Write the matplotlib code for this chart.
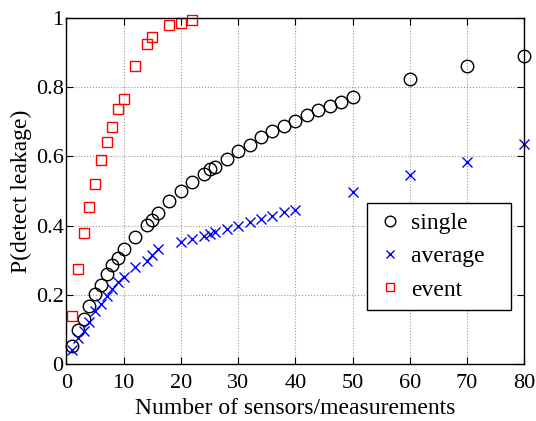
import matplotlib.pyplot as plt

plt.rcParams['font.family'] = ['Liberation Serif', 'DejaVu Serif']
plt.rcParams['mathtext.fontset'] = 'stix'

x_single = [1, 2, 3, 4, 5, 6, 7, 8, 9, 10, 12, 14, 15, 16, 18, 20, 22, 24, 25, 26, 28, 30,
            32, 34, 36, 38, 40, 42, 44, 46, 48, 50, 60, 70, 80]
y_single = [0.052, 0.098, 0.131, 0.169, 0.202, 0.229, 0.26, 0.285, 0.307, 0.331, 0.367, 0.403,
            0.416, 0.437, 0.471, 0.5, 0.525, 0.548, 0.562, 0.569, 0.592, 0.615,
            0.632, 0.655, 0.672, 0.688, 0.701, 0.72, 0.733, 0.745, 0.757, 0.77, 0.822, 0.86, 0.889]

x_avg = [1, 2, 3, 4, 5, 6, 7, 8, 9, 10, 12, 14, 15, 16, 20, 22, 24, 25, 26, 28, 30,
         32, 34, 36, 38, 40, 50, 60, 70, 80]
y_avg = [0.04, 0.075, 0.096, 0.122, 0.153, 0.173, 0.196, 0.216, 0.236, 0.252, 0.281, 0.298,
         0.315, 0.333, 0.353, 0.362, 0.371, 0.375, 0.382, 0.39, 0.4,
         0.41, 0.418, 0.427, 0.44, 0.444, 0.496, 0.546, 0.583, 0.636]

x_event = [1, 2, 3, 4, 5, 6, 7, 8, 9, 10, 12, 14, 15, 18, 20, 22]
y_event = [0.14, 0.275, 0.38, 0.455, 0.52, 0.59, 0.64, 0.685, 0.735, 0.765, 0.86, 0.925,
           0.945, 0.98, 0.985, 0.993]

fig = plt.figure(figsize=(5.36, 4.21), dpi=100)
ax = fig.add_axes([0.124, 0.135, 0.854, 0.823])

# trailing spaces give the legend box the extra right margin of the original
ax.plot(x_single, y_single, 'o', mfc='none', mec='black', ms=9, mew=1.0,
        label='single', clip_on=False)
ax.plot(x_avg, y_avg, 'x', color='blue', ms=7, mew=1.0, label='average   ', clip_on=False)
ax.plot(x_event, y_event, 's', mfc='none', mec='red', ms=7, mew=1.0,
        label='event', clip_on=False)

ax.set_xlim(0, 80)
ax.set_ylim(0, 1)
ax.set_xticks(range(0, 81, 10))
ax.set_yticks([0, 0.2, 0.4, 0.6, 0.8, 1])
ax.set_yticklabels(['0', '0.2', '0.4', '0.6', '0.8', '1'])
ax.grid(True, linestyle=':', color='#999999', linewidth=0.8)
ax.tick_params(direction='in', top=True, right=True, labelsize=16, length=5)
ax.tick_params(axis='x', pad=7)
ax.tick_params(axis='y', pad=2)
for s in ax.spines.values():
    s.set_linewidth(1.0)

ax.set_xlabel('Number of sensors/measurements', fontsize=17, labelpad=4)
ax.set_ylabel('P(detect leakage)', fontsize=17, labelpad=3)

leg = ax.legend(loc='lower right', bbox_to_anchor=(0.972, 0.156), borderaxespad=0,
                fontsize=17, fancybox=False, edgecolor='black', framealpha=1,
                handlelength=1.2, handletextpad=0.26, borderpad=0.4,
                labelspacing=0.5, markerscale=0.85)
leg.get_frame().set_linewidth(1.0)

fig.savefig('out.png', dpi=100)
